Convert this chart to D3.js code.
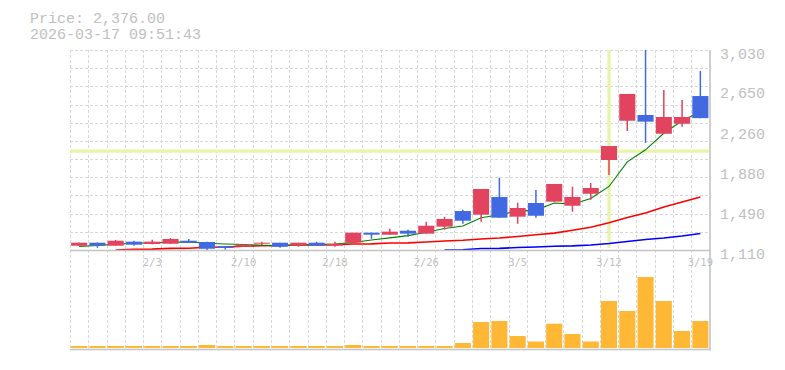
<!DOCTYPE html>
<html>
<head>
<meta charset="utf-8">
<script src="https://cdn.jsdelivr.net/npm/d3@7"></script>
<style>
  html, body { margin: 0; padding: 0; background: #fff; }
  svg { display: block; }
</style>
</head>
<body>
<svg id="chart" width="785" height="370"></svg>
<script>
// ---------- data ----------
const dates = ["1/28","1/29","1/30","2/2","2/3","2/4","2/5","2/6","2/9","2/10","2/12","2/13","2/16","2/17","2/18","2/19","2/20","2/24","2/25","2/26","2/27","3/2","3/3","3/4","3/5","3/6","3/9","3/10","3/11","3/12","3/13","3/16","3/17","3/18","3/19"];
const openP  = [1151,1180,1151,1190,1168,1170,1199,1187,1146,1142,1174,1180,1151,1180,1151,1180,1276,1257,1295,1267,1334,1484,1449,1619,1430,1561,1574,1535,1650,1974,2351,2406,2226,2322,2588];
const closeP = [1180,1151,1199,1161,1190,1216,1180,1122,1129,1161,1180,1142,1180,1151,1170,1276,1257,1286,1267,1343,1408,1391,1696,1420,1513,1439,1744,1619,1705,2108,2608,2342,2387,2387,2376];
const highP  = [1182,1182,1206,1199,1209,1225,1216,1190,1148,1163,1190,1180,1180,1190,1190,1276,1276,1314,1305,1382,1430,1497,1696,1804,1564,1686,1744,1718,1753,2108,2608,3080,2646,2550,2828];
const lowP   = [1150,1132,1150,1151,1166,1168,1178,1103,1113,1140,1158,1132,1142,1151,1142,1180,1219,1257,1238,1267,1305,1362,1382,1420,1362,1420,1574,1478,1593,1830,2252,2140,2226,2294,2376];
const volume = [20,20,20,20,20,20,20,30,20,20,20,20,20,20,20,30,20,20,20,20,20,50,260,270,120,65,243,140,65,470,370,710,470,170,270];
const maShort = [1145,1153,1166,1175,1178,1184,1188,1175,1168,1163,1156,1150,1158,1164,1167,1182,1206,1226,1248,1280,1316,1341,1419,1449,1483,1493,1561,1550,1604,1720,1956,2072,2231,2350,2438];
const maMid   = [null,null,1110,1117,1118,1126,1127,1136,1139,1146,1151,1153,1158,1158,1161,1168,1169,1177,1178,1187,1196,1203,1216,1225,1240,1256,1272,1300,1328,1372,1422,1465,1523,1571,1619];
const maLong  = [null,null,null,null,null,null,null,null,null,null,null,null,null,null,null,null,null,null,null,null,1110,1112,1124,1126,1134,1139,1146,1150,1158,1172,1192,1211,1225,1244,1268];
const tickDates = ["2/3","2/10","2/18","2/26","3/5","3/12","3/19"];
const priceTicks = [1110,1490,1880,2260,2650,3030];
const priceDomain = [1110, 3030];
const volumeMax = 860;
const crossDate = "3/12";
const crossPrice = 2060;
const titleLines = ["Price: 2,376.00", "2026-03-17 09:51:43"];

// ---------- layout ----------
const L = 70, R = 709.5, T = 50, B = 250, VT = 262, VB = 348;
const upColor = "#e2435f", downColor = "#4169e1";
const gridColor = "#d8d8d8", axisColor = "#c4c4c4", textColor = "#c0c0c0";
const mono = "'Liberation Mono','DejaVu Sans Mono',monospace";

const svg = d3.select("#chart");
const x = d3.scaleBand().domain(dates).range([L, R]).paddingInner(0.12).paddingOuter(0.06);
const step = x.step();
const cx = d => x(d) + x.bandwidth() / 2;
const y = d3.scaleLinear().domain(priceDomain).range([B, T]);
const yv = d3.scaleLinear().domain([0, volumeMax]).range([VB, VT]);

const data = dates.map((d, i) => ({
  date: d, o: openP[i], c: closeP[i], h: highP[i], l: lowP[i], v: volume[i],
  m1: maShort[i], m2: maMid[i], m3: maLong[i]
}));

svg.append("defs").append("clipPath").attr("id", "plot")
  .append("rect").attr("x", L).attr("y", T).attr("width", R - L).attr("height", B - T + 1);

// ---------- grid ----------
const grid = svg.append("g").attr("stroke", gridColor).attr("stroke-dasharray", "3,2").attr("shape-rendering", "crispEdges");
const colEdges = dates.map(d => x(d) - step * 0.06);
grid.selectAll("line.v").data(colEdges).join("line")
  .attr("x1", d => Math.round(d) + 0.5).attr("x2", d => Math.round(d) + 0.5)
  .attr("y1", T).attr("y2", VB + 2);
const hLevels = d3.range(11).map(k => priceDomain[0] + (k + 1) * (priceDomain[1] - priceDomain[0]) / 11);
grid.selectAll("line.h").data(hLevels).join("line")
  .attr("x1", L).attr("x2", R)
  .attr("y1", d => Math.round(y(d)) + 0.5).attr("y2", d => Math.round(y(d)) + 0.5);

// ---------- crosshair ----------
const cross = svg.append("g").attr("stroke", "#e6f5a8").attr("stroke-width", 3.2);
cross.append("line").attr("x1", cx(crossDate)).attr("x2", cx(crossDate)).attr("y1", T).attr("y2", B - 2);
cross.append("line").attr("x1", L).attr("x2", R).attr("y1", y(crossPrice)).attr("y2", y(crossPrice));

// ---------- moving averages ----------
const plot = svg.append("g").attr("clip-path", "url(#plot)");
const maDefs = [["m3", "#0000ff", 1.6], ["m2", "#ff0000", 1.6], ["m1", "#008000", 1.1]];
maDefs.forEach(([k, col, w]) => {
  const line = d3.line().defined(d => d[k] != null).x(d => cx(d.date)).y(d => y(d[k]));
  plot.append("path").datum(data).attr("d", line)
    .attr("fill", "none").attr("stroke", col).attr("stroke-width", w);
});

// ---------- candles ----------
const candles = plot.selectAll("g.candle").data(data).join("g");
candles.append("line")
  .attr("x1", d => cx(d.date)).attr("x2", d => cx(d.date))
  .attr("y1", d => y(d.h)).attr("y2", d => y(d.l))
  .attr("stroke", d => d.c >= d.o ? upColor : downColor).attr("stroke-width", 1.5);
candles.append("rect")
  .attr("x", d => x(d.date)).attr("width", x.bandwidth())
  .attr("y", d => y(Math.max(d.o, d.c)))
  .attr("height", d => Math.max(1, Math.abs(y(d.o) - y(d.c))))
  .attr("fill", d => d.c >= d.o ? upColor : downColor);

// ---------- volume ----------
svg.append("g").selectAll("rect").data(data).join("rect")
  .attr("x", d => x(d.date)).attr("width", x.bandwidth())
  .attr("y", d => yv(d.v)).attr("height", d => VB - yv(d.v))
  .attr("fill", "#ffb835");

// ---------- axes frame ----------
const frame = svg.append("g").attr("stroke", axisColor).attr("stroke-width", 1.6);
frame.append("line").attr("x1", L).attr("x2", R + 1).attr("y1", B + 0.5).attr("y2", B + 0.5);
frame.append("line").attr("x1", L).attr("x2", R + 1).attr("y1", VB + 1.5).attr("y2", VB + 1.5);
frame.append("line").attr("x1", R + 0.5).attr("x2", R + 0.5).attr("y1", T).attr("y2", VB + 2.3);

// ---------- y axis (right) ----------
const yAxis = d3.axisRight(y).tickValues(priceTicks).tickFormat(d3.format(",")).tickSize(0).tickPadding(0);
const gy = svg.append("g").attr("transform", `translate(${L + 650},0)`).call(yAxis);
gy.select(".domain").remove();
gy.selectAll("text").attr("fill", textColor).attr("font-family", mono).attr("font-size", 15)
  .attr("text-anchor", "start").attr("dy", "0.55em").attr("x", 0);

// ---------- x axis ----------
const xAxis = d3.axisBottom(x).tickValues(tickDates).tickSize(0).tickPadding(0);
const gx = svg.append("g").attr("transform", `translate(0,${B})`).call(xAxis);
gx.select(".domain").remove();
gx.selectAll("text").attr("fill", textColor).attr("font-family", "'DejaVu Sans Mono',monospace")
  .attr("font-size", 10.5).attr("y", 16).attr("dy", 0);

// ---------- title ----------
svg.append("g").selectAll("text").data(titleLines).join("text")
  .attr("x", 30).attr("y", (d, i) => 23 + i * 15.5)
  .attr("fill", textColor).attr("font-family", mono).attr("font-size", 15)
  .text(d => d);
</script>
</body>
</html>
